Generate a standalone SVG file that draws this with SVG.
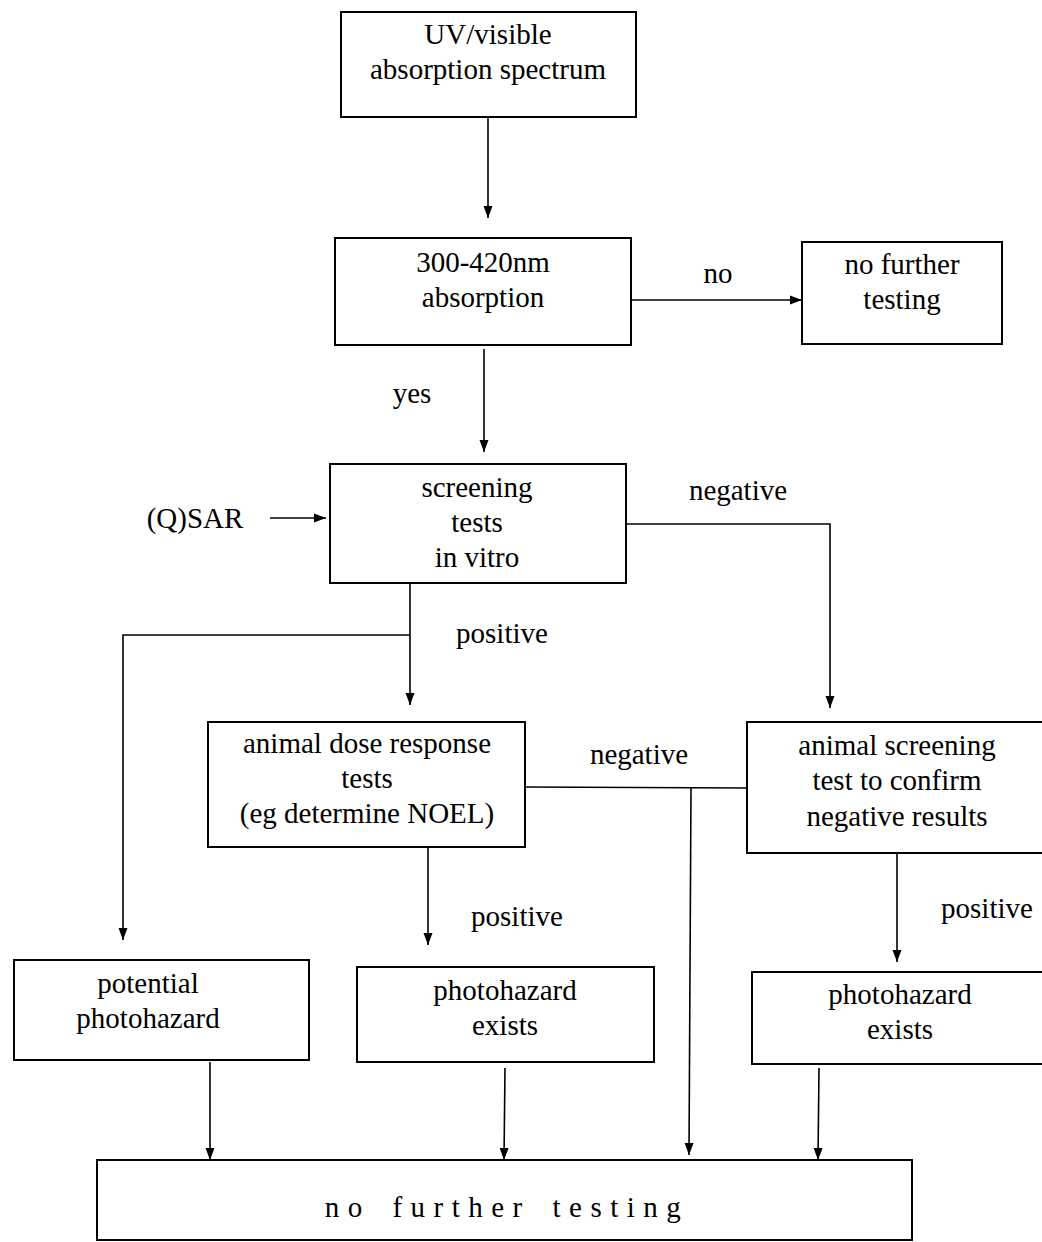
<svg xmlns="http://www.w3.org/2000/svg" width="1042" height="1242" viewBox="0 0 1042 1242">
<style>
.box{fill:#fff;stroke:#000;stroke-width:2}
.t{font-family:"Liberation Serif","Times New Roman",serif;font-size:29px;fill:#000;text-anchor:middle}
.ln{fill:none;stroke:#000;stroke-width:1.6}
</style>
<defs>
<marker id="ah" viewBox="0 0 12 10" refX="12" refY="5" markerWidth="12" markerHeight="10" markerUnits="userSpaceOnUse" orient="auto">
<path d="M0,0.5 L12,5 L0,9.5 Z" fill="#000"/>
</marker>
</defs>
<rect width="1042" height="1242" fill="#fff"/>
<g id="connectors">
<line class="ln" x1="488" y1="117" x2="488" y2="218" marker-end="url(#ah)"/>
<line class="ln" x1="631" y1="300" x2="802" y2="300" marker-end="url(#ah)"/>
<line class="ln" x1="484" y1="349" x2="484" y2="452" marker-end="url(#ah)"/>
<line class="ln" x1="270" y1="518" x2="326" y2="518" marker-end="url(#ah)"/>
<polyline class="ln" points="626,524 830,524 830,708" marker-end="url(#ah)"/>
<line class="ln" x1="410" y1="583" x2="410" y2="705" marker-end="url(#ah)"/>
<polyline class="ln" points="410,635 123,635 123,940" marker-end="url(#ah)"/>
<line class="ln" x1="525" y1="787" x2="747" y2="788"/>
<line class="ln" x1="691" y1="788" x2="689" y2="1155" marker-end="url(#ah)"/>
<line class="ln" x1="428" y1="847" x2="428" y2="945" marker-end="url(#ah)"/>
<line class="ln" x1="897" y1="853" x2="897" y2="962" marker-end="url(#ah)"/>
<line class="ln" x1="210" y1="1062" x2="210" y2="1160" marker-end="url(#ah)"/>
<line class="ln" x1="505" y1="1068" x2="504" y2="1160" marker-end="url(#ah)"/>
<line class="ln" x1="819" y1="1068" x2="818" y2="1160" marker-end="url(#ah)"/>
<text class="t" x="718" y="283">no</text>
<text class="t" x="412" y="403">yes</text>
<text class="t" x="738" y="500">negative</text>
<text class="t" x="502" y="643">positive</text>
<text class="t" x="639" y="764">negative</text>
<text class="t" x="517" y="926">positive</text>
<text class="t" x="987" y="918">positive</text>
</g>
<g id="qsar"><text class="t" x="195" y="528">(Q)SAR</text></g>
<g id="uv"><rect class="box" x="341" y="12" width="295" height="105"/>
<text class="t" x="488" y="44">UV/visible</text><text class="t" x="488" y="79">absorption spectrum</text></g>
<g id="abs"><rect class="box" x="335" y="238" width="296" height="107"/>
<text class="t" x="483" y="272">300-420nm</text><text class="t" x="483" y="307">absorption</text></g>
<g id="nft1"><rect class="box" x="802" y="242" width="200" height="102"/>
<text class="t" x="902" y="274">no further</text><text class="t" x="902" y="309">testing</text></g>
<g id="screen"><rect class="box" x="330" y="464" width="296" height="119"/>
<text class="t" x="477" y="497">screening</text><text class="t" x="477" y="532">tests</text><text class="t" x="477" y="567">in vitro</text></g>
<g id="dose"><rect class="box" x="208" y="722" width="317" height="125"/>
<text class="t" x="367" y="753">animal dose response</text><text class="t" x="367" y="788">tests</text><text class="t" x="367" y="823">(eg determine NOEL)</text></g>
<g id="confirm"><rect class="box" x="747" y="722" width="300" height="131"/>
<text class="t" x="897" y="755">animal screening</text><text class="t" x="897" y="790">test to confirm</text><text class="t" x="897" y="826">negative results</text></g>
<g id="potential"><rect class="box" x="14" y="960" width="295" height="100"/>
<text class="t" x="148" y="993">potential</text><text class="t" x="148" y="1028">photohazard</text></g>
<g id="exists1"><rect class="box" x="357" y="967" width="297" height="95"/>
<text class="t" x="505" y="1000">photohazard</text><text class="t" x="505" y="1035">exists</text></g>
<g id="exists2"><rect class="box" x="752" y="972" width="295" height="92"/>
<text class="t" x="900" y="1004">photohazard</text><text class="t" x="900" y="1039">exists</text></g>
<g id="nft2"><rect class="box" x="97" y="1160" width="815" height="80"/>
<text class="t" x="507" y="1217" font-size="26" letter-spacing="8.5" word-spacing="6">no further testing</text></g>
</svg>
